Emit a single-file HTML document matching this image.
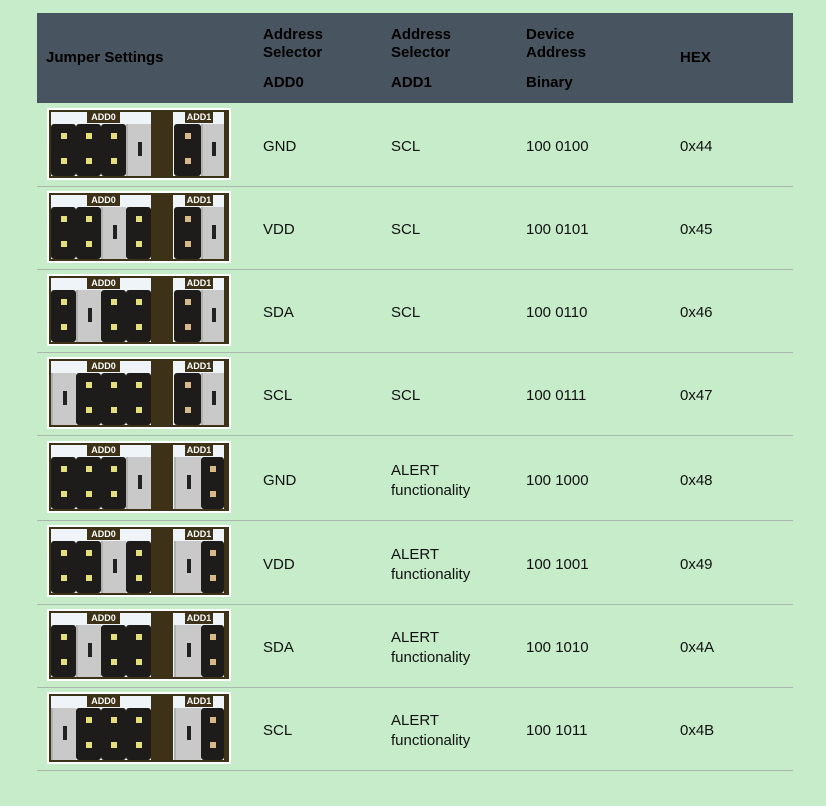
<!DOCTYPE html>
<html><head><meta charset="utf-8"><style>
body{margin:0;width:826px;height:806px;background:#c6ecca;position:relative;font-family:"Liberation Sans",sans-serif;overflow:hidden}
.a{position:absolute}
.hd{left:37px;top:13px;width:756px;height:90px;background:#48545f}
.h{position:absolute;font-weight:bold;font-size:15px;color:#000;line-height:18px}
.t{position:absolute;font-size:15px;color:#111;line-height:20px;margin-top:2px}
.ln{position:absolute;left:37px;width:756px;height:1px;background:#a9b7ad}
.img{position:absolute;left:47px;width:184px;height:72px;background:#fff}
.img .br{position:absolute;left:2px;top:2px;right:2px;bottom:2px;background:#3d3217}
.p0,.p1{position:absolute;top:4px;height:64px;background:#eef4f8}
.p0{left:4px;width:100px}.p1{left:126px;width:51px}
.lb{position:absolute;top:4px;height:11px;background:#3d3217;color:#fff;font-size:9px;font-weight:bold;line-height:11px;text-align:center}
.c{position:absolute;top:16px;height:52px}
.b{background:#1d1c1a;border-radius:3px}
.b::before,.b::after{content:"";position:absolute;left:50%;margin-left:-3px;width:6px;height:6px;background:#e4df7a}
.b::before{top:9px}.b::after{top:34px}
.q::before,.q::after{background:#d8b98a}
.g{background:#c9c9c9;border-left:2px solid #b0b0b0;box-sizing:border-box}
.g::after{content:"";position:absolute;left:45%;top:18px;width:4px;height:14px;background:#222}
.k0{left:4px;width:25px}.k1{left:29px;width:25px}.k2{left:54px;width:25px}.k3{left:79px;width:25px}
.m0{left:127px;width:27px}.m1{left:154px;width:23px}
</style></head><body>
<div class="a hd"></div>
<div class="h" style="left:46px;top:49px">Jumper Settings</div>
<div class="h" style="left:263px;top:26px">Address<br>Selector</div>
<div class="h" style="left:263px;top:74px">ADD0</div>
<div class="h" style="left:391px;top:26px">Address<br>Selector</div>
<div class="h" style="left:391px;top:74px">ADD1</div>
<div class="h" style="left:526px;top:26px">Device<br>Address</div>
<div class="h" style="left:526px;top:74px">Binary</div>
<div class="h" style="left:680px;top:49px">HEX</div>

<!-- row1 -->
<div class="img" style="top:108px"><div class="br"></div><div class="p0"></div><div class="p1"></div><div class="lb" style="left:40px;width:33px">ADD0</div><div class="lb" style="left:138px;width:28px">ADD1</div>
<div class="c b k0"></div><div class="c b k1"></div><div class="c b k2"></div><div class="c g k3"></div><div class="c b q m0"></div><div class="c g m1"></div></div>
<div class="t" style="left:263px;top:135px">GND</div><div class="t" style="left:391px;top:135px">SCL</div><div class="t" style="left:526px;top:135px">100 0100</div><div class="t" style="left:680px;top:135px">0x44</div>
<div class="ln" style="top:186px"></div>
<!-- row2 -->
<div class="img" style="top:191px"><div class="br"></div><div class="p0"></div><div class="p1"></div><div class="lb" style="left:40px;width:33px">ADD0</div><div class="lb" style="left:138px;width:28px">ADD1</div>
<div class="c b k0"></div><div class="c b k1"></div><div class="c g k2"></div><div class="c b k3"></div><div class="c b q m0"></div><div class="c g m1"></div></div>
<div class="t" style="left:263px;top:218px">VDD</div><div class="t" style="left:391px;top:218px">SCL</div><div class="t" style="left:526px;top:218px">100 0101</div><div class="t" style="left:680px;top:218px">0x45</div>
<div class="ln" style="top:269px"></div>
<!-- row3 -->
<div class="img" style="top:274px"><div class="br"></div><div class="p0"></div><div class="p1"></div><div class="lb" style="left:40px;width:33px">ADD0</div><div class="lb" style="left:138px;width:28px">ADD1</div>
<div class="c b k0"></div><div class="c g k1"></div><div class="c b k2"></div><div class="c b k3"></div><div class="c b q m0"></div><div class="c g m1"></div></div>
<div class="t" style="left:263px;top:301px">SDA</div><div class="t" style="left:391px;top:301px">SCL</div><div class="t" style="left:526px;top:301px">100 0110</div><div class="t" style="left:680px;top:301px">0x46</div>
<div class="ln" style="top:352px"></div>
<!-- row4 -->
<div class="img" style="top:357px"><div class="br"></div><div class="p0"></div><div class="p1"></div><div class="lb" style="left:40px;width:33px">ADD0</div><div class="lb" style="left:138px;width:28px">ADD1</div>
<div class="c g k0"></div><div class="c b k1"></div><div class="c b k2"></div><div class="c b k3"></div><div class="c b q m0"></div><div class="c g m1"></div></div>
<div class="t" style="left:263px;top:384px">SCL</div><div class="t" style="left:391px;top:384px">SCL</div><div class="t" style="left:526px;top:384px">100 0111</div><div class="t" style="left:680px;top:384px">0x47</div>
<div class="ln" style="top:435px"></div>
<!-- row5 -->
<div class="img" style="top:441px"><div class="br"></div><div class="p0"></div><div class="p1"></div><div class="lb" style="left:40px;width:33px">ADD0</div><div class="lb" style="left:138px;width:28px">ADD1</div>
<div class="c b k0"></div><div class="c b k1"></div><div class="c b k2"></div><div class="c g k3"></div><div class="c g m0"></div><div class="c b q m1"></div></div>
<div class="t" style="left:263px;top:469px">GND</div><div class="t" style="left:391px;top:459px">ALERT<br>functionality</div><div class="t" style="left:526px;top:469px">100 1000</div><div class="t" style="left:680px;top:469px">0x48</div>
<div class="ln" style="top:520px"></div>
<!-- row6 -->
<div class="img" style="top:525px"><div class="br"></div><div class="p0"></div><div class="p1"></div><div class="lb" style="left:40px;width:33px">ADD0</div><div class="lb" style="left:138px;width:28px">ADD1</div>
<div class="c b k0"></div><div class="c b k1"></div><div class="c g k2"></div><div class="c b k3"></div><div class="c g m0"></div><div class="c b q m1"></div></div>
<div class="t" style="left:263px;top:553px">VDD</div><div class="t" style="left:391px;top:543px">ALERT<br>functionality</div><div class="t" style="left:526px;top:553px">100 1001</div><div class="t" style="left:680px;top:553px">0x49</div>
<div class="ln" style="top:604px"></div>
<!-- row7 -->
<div class="img" style="top:609px"><div class="br"></div><div class="p0"></div><div class="p1"></div><div class="lb" style="left:40px;width:33px">ADD0</div><div class="lb" style="left:138px;width:28px">ADD1</div>
<div class="c b k0"></div><div class="c g k1"></div><div class="c b k2"></div><div class="c b k3"></div><div class="c g m0"></div><div class="c b q m1"></div></div>
<div class="t" style="left:263px;top:636px">SDA</div><div class="t" style="left:391px;top:626px">ALERT<br>functionality</div><div class="t" style="left:526px;top:636px">100 1010</div><div class="t" style="left:680px;top:636px">0x4A</div>
<div class="ln" style="top:687px"></div>
<!-- row8 -->
<div class="img" style="top:692px"><div class="br"></div><div class="p0"></div><div class="p1"></div><div class="lb" style="left:40px;width:33px">ADD0</div><div class="lb" style="left:138px;width:28px">ADD1</div>
<div class="c g k0"></div><div class="c b k1"></div><div class="c b k2"></div><div class="c b k3"></div><div class="c g m0"></div><div class="c b q m1"></div></div>
<div class="t" style="left:263px;top:719px">SCL</div><div class="t" style="left:391px;top:709px">ALERT<br>functionality</div><div class="t" style="left:526px;top:719px">100 1011</div><div class="t" style="left:680px;top:719px">0x4B</div>
<div class="ln" style="top:770px"></div>
</body></html>
